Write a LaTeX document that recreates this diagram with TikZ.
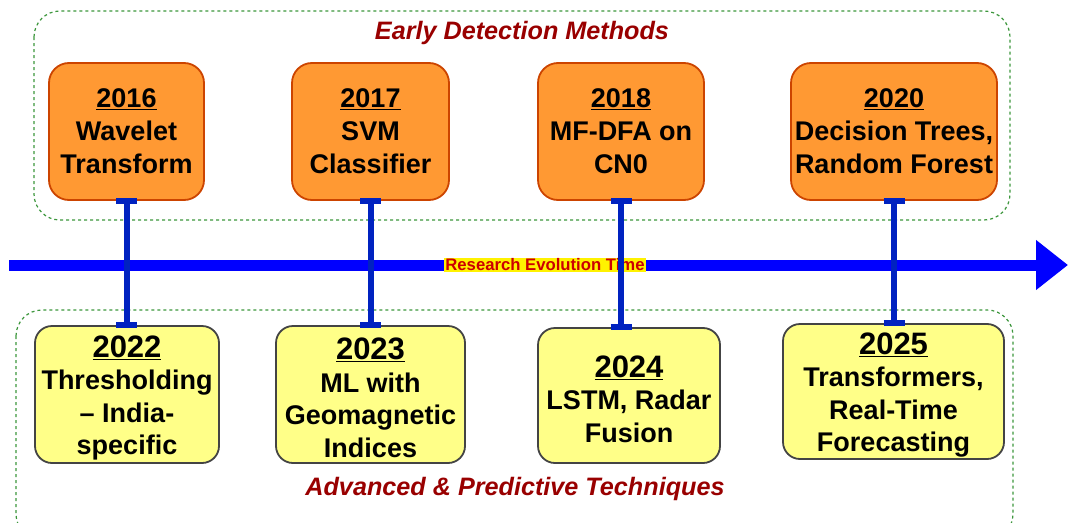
\documentclass[tikz,border=0pt]{standalone}
\usepackage{fontspec}
\setmainfont{Liberation Sans}
\usetikzlibrary{arrows.meta}

\definecolor{boxorange}{RGB}{255,153,51}
\definecolor{edgeorange}{RGB}{204,68,0}
\definecolor{boxyellow}{RGB}{255,255,136}
\definecolor{edgegray}{RGB}{68,68,68}
\definecolor{linkblue}{RGB}{0,34,192}
\definecolor{axisblue}{RGB}{0,0,255}
\definecolor{groupgreen}{RGB}{60,150,60}
\definecolor{titlered}{RGB}{153,0,0}
\definecolor{labelred}{RGB}{204,0,0}

% larger underlined year, with a strut that gives it a little more room above
\newcommand{\bigyear}[1]{{\fontsize{31}{33}\selectfont\rule{0pt}{28.5pt}\underline{#1}}}

\tikzset{
  group/.style={draw=groupgreen, line width=1.2pt, dash pattern=on 3pt off 3pt, rounded corners=26pt},
  earlybox/.style={draw=edgeorange, fill=boxorange, line width=1.8pt, rounded corners=20pt,
    align=center, inner sep=0pt, font=\fontsize{27}{33}\selectfont\bfseries},
  latebox/.style={draw=edgegray, fill=boxyellow, line width=1.8pt, rounded corners=17pt,
    align=center, inner sep=0pt, font=\fontsize{27}{32.5}\selectfont\bfseries},
  grouptitle/.style={text=titlered, font=\fontsize{25.2}{29}\selectfont\bfseries\itshape},
  link/.style={draw=linkblue, line width=6pt},
  linkbar/.style={draw=linkblue, line width=6pt},
  axis/.style={draw=axisblue, line width=11pt, -{Triangle[length=32pt,width=48pt]}},
}

\begin{document}
\begin{tikzpicture}[x=1pt,y=-1pt]
\useasboundingbox (0,0) rectangle (1068,522);

% group frames
\draw[group] (34,11) rectangle (1010,220);
\draw[group] (16,310) rectangle (1013,540);

\node[grouptitle] (ttop) at (522,33) {Early Detection Methods};
\node[grouptitle] (tbot) at (515,489) {Advanced \& Predictive Techniques};

% time axis
\coordinate (axL) at (9,265);
\coordinate (axR) at (1068,265);
\draw[axis] (axL) -- (axR);
\node[fill=yellow, text=labelred, inner sep=1pt, font=\fontsize{16.7}{18}\selectfont\bfseries]
  (axlabel) at (545,265) {Research Evolution Time};

% early methods
\node[earlybox, minimum width=155pt, minimum height=137pt] (b2016) at (126.5,131.5)
  {\underline{2016}\\Wavelet\\Transform};
\node[earlybox, minimum width=157pt, minimum height=137pt] (b2017) at (370.5,131.5)
  {\underline{2017}\\SVM\\Classifier};
\node[earlybox, minimum width=166pt, minimum height=137pt] (b2018) at (621,131.5)
  {\underline{2018}\\MF-DFA on\\CN0};
\node[earlybox, minimum width=206pt, minimum height=137pt] (b2020) at (894,131.5)
  {\underline{2020}\\Decision Trees,\\Random Forest};

% advanced techniques
\node[latebox, minimum width=184pt, minimum height=137pt] (b2022) at (127,394.5)
  {\bigyear{2022}\\Thresholding\\– India-\\specific};
\node[latebox, minimum width=189pt, minimum height=137pt] (b2023) at (370.5,394.5)
  {\bigyear{2023}\\ML with\\Geomagnetic\\Indices};
\node[latebox, minimum width=182pt, minimum height=135pt] (b2024) at (629,395.5)
  {\bigyear{2024}\\LSTM, Radar\\Fusion};
\node[latebox, minimum width=221pt, minimum height=135pt] (b2025) at (893.5,391.5)
  {\bigyear{2025}\\Transformers,\\Real-Time\\Forecasting};

% links between the two rows
\foreach \a/\b in {b2016/b2022, b2017/b2023, b2018/b2024, b2020/b2025}{
  \coordinate (\a-end) at (\a.south |- \b.north);
  \draw[link] (\a.south) -- (\a-end);
  \draw[linkbar] ([xshift=-10.5pt]\a.south) -- ([xshift=10.5pt]\a.south);
  \draw[linkbar] ([xshift=-10.5pt]\a-end) -- ([xshift=10.5pt]\a-end);
}
\end{tikzpicture}
\end{document}
